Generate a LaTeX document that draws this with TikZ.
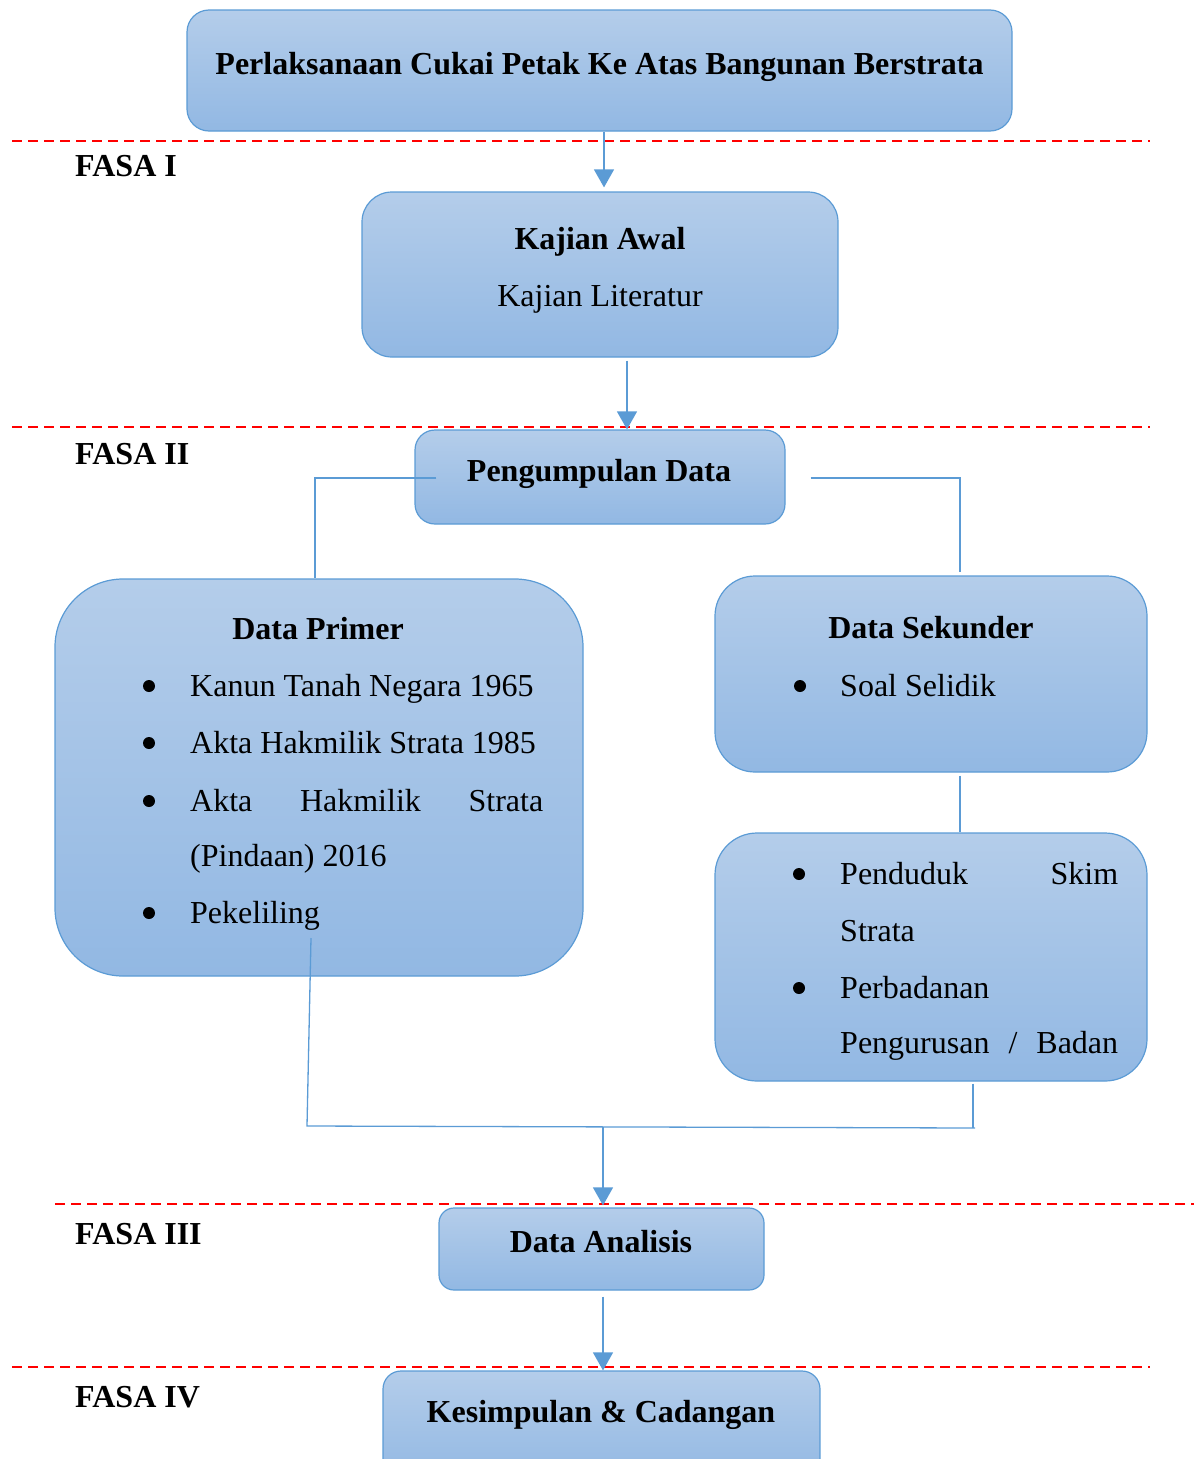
\documentclass[tikz,border=0pt]{standalone}
\usepackage{fontspec}
\setmainfont{Liberation Serif}
\usetikzlibrary{arrows.meta}
\definecolor{boxtop}{RGB}{180,205,234}
\definecolor{boxbot}{RGB}{146,184,227}
\definecolor{boxedge}{RGB}{91,155,213}
\definecolor{connc}{RGB}{91,155,213}
\tikzset{
 bx/.style={draw=boxedge, line width=1.2pt, top color=boxtop, bottom color=boxbot, inner sep=0pt},
 conn/.style={draw=connc, line width=1.3pt},
 arr/.style={conn, -{Triangle[width=20pt,length=18pt]}},
 sepline/.style={draw=red, line width=1.3pt, dash pattern=on 10pt off 6pt},
 txt/.style={anchor=base, inner sep=0pt, font=\fontsize{32}{38}\selectfont},
 btxt/.style={anchor=base, inner sep=0pt, font=\fontsize{32}{38}\selectfont\bfseries},
 dot/.style={circle, fill=black, inner sep=0pt, minimum size=12pt},
}
\begin{document}
\begin{tikzpicture}[x=1pt,y=-1pt]
\useasboundingbox (0,0) rectangle (1194,1459);
\clip (0,0) rectangle (1194,1459);

% separators
\draw[sepline] (12,141) -- (1150,141);
\draw[sepline] (12,427) -- (1150,427);
\draw[sepline] (55,1204) -- (1194,1204);
\draw[sepline] (12,1367) -- (1150,1367);

% boxes
\node[bx, rounded corners=22pt, minimum width=825pt, minimum height=121pt] (top) at (599.5,70.5) {};
\node[bx, rounded corners=30pt, minimum width=476pt, minimum height=165pt] (kaj) at (600,274.5) {};
\node[bx, rounded corners=20pt, minimum width=370pt, minimum height=94pt] (peng) at (600,477) {};
\node[bx, rounded corners=68pt, minimum width=528pt, minimum height=397pt] (prim) at (319,777.5) {};
\node[bx, rounded corners=40pt, minimum width=432pt, minimum height=196pt] (sek) at (931,674) {};
\node[bx, rounded corners=42pt, minimum width=432pt, minimum height=248pt] (sek2) at (931,957) {};
\node[bx, rounded corners=15pt, minimum width=325pt, minimum height=82pt] (anal) at (601.5,1249) {};
\node[bx, rounded corners=18pt, minimum width=437pt, minimum height=109pt] (kes) at (601.5,1425.5) {};

% texts
\node[btxt] (ttop) at (599.5,74) {Perlaksanaan Cukai Petak Ke Atas Bangunan Berstrata};
\node[btxt, anchor=base west] (f1) at (75,176) {FASA I};
\node[btxt] (tkaj) at (600,249) {Kajian Awal};
\node[txt] (tlit) at (600,306) {Kajian Literatur};
\node[btxt, anchor=base west] (f2) at (75,464) {FASA II};
\node[btxt] (tpeng) at (599,481) {Pengumpulan Data};

\node[btxt] (tprim) at (318,639) {Data Primer};
\node[dot] (b1) at (149,686) {};
\node[txt, anchor=base west] (p1) at (190,696) {Kanun Tanah Negara 1965};
\node[dot] (b2) at (149,743) {};
\node[txt, anchor=base west] (p2) at (190,753) {Akta Hakmilik Strata 1985};
\node[dot] (b3) at (149,801) {};
\node[txt, anchor=base west] (p3) at (190,811) {\makebox[353pt][s]{Akta Hakmilik Strata}};
\node[txt, anchor=base west] (p3b) at (190,866) {(Pindaan) 2016};
\node[dot] (b4) at (149,913) {};
\node[txt, anchor=base west] (p4) at (190,923) {Pekeliling};

\node[btxt] (tsek) at (931,638) {Data Sekunder};
\node[dot] (b5) at (800,686) {};
\node[txt, anchor=base west] (s1) at (840,696) {Soal Selidik};

\node[dot] (b6) at (799,874) {};
\node[txt, anchor=base west] (s2) at (840,884) {\makebox[278pt][s]{Penduduk Skim}};
\node[txt, anchor=base west] (s2b) at (840,941) {Strata};
\node[dot] (b7) at (799,988) {};
\node[txt, anchor=base west] (s3) at (840,998) {Perbadanan};
\node[txt, anchor=base west] (s3b) at (840,1053) {\makebox[278pt][s]{Pengurusan / Badan}};

\node[btxt, anchor=base west] (f3) at (75,1244) {FASA III};
\node[btxt] (tanal) at (601,1252) {Data Analisis};
\node[btxt, anchor=base west] (f4) at (75,1407) {FASA IV};
\node[btxt] (tkes) at (601,1422) {Kesimpulan \& Cadangan};

% connectors
\coordinate (pk) at (311,938);
\coordinate (jl) at (307,1126);
\coordinate (jr) at (975,1128);
\coordinate (jm) at (603,1127);

\draw[arr] ([xshift=4.5pt]top.south) -- ([xshift=4pt,yshift=4pt]kaj.north);
\draw[arr] ([xshift=27pt,yshift=-3pt]kaj.south) -- ([xshift=27pt]peng.north);
\draw[conn] ([xshift=22pt,yshift=-1pt]peng.west) -| ([xshift=-4pt]prim.north);
\draw[conn] ([xshift=25pt,yshift=-1pt]peng.east) -| ([xshift=29pt,yshift=3pt]sek.north);
\draw[conn] ([xshift=29pt,yshift=-3pt]sek.south) -- ([xshift=29pt]sek2.north);
\draw[conn] (pk) -- (jl) -- (jr);
\draw[conn] ([xshift=42pt,yshift=-2pt]sek2.south) -- ([xshift=-2pt]jr);
\draw[arr] (jm) -- ([xshift=1.5pt,yshift=2pt]anal.north);
\draw[arr] ([xshift=1.5pt,yshift=-6pt]anal.south) -- ([xshift=1.5pt]kes.north);
\end{tikzpicture}
\end{document}
